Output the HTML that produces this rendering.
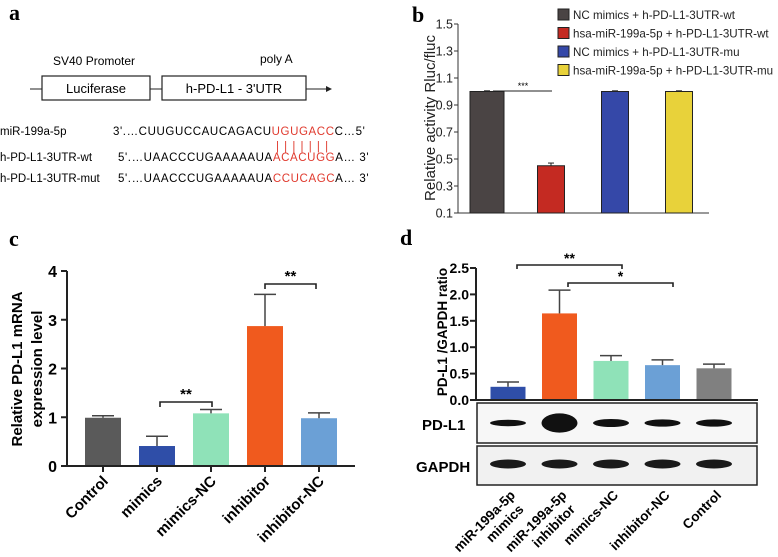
<!DOCTYPE html>
<html><head><meta charset="utf-8"><style>
html,body{margin:0;padding:0;background:#fff;}
svg{display:block;font-family:"Liberation Sans",Arial,sans-serif;}
</style></head><body>
<svg id="fig" width="778" height="557" viewBox="0 0 778 557" xmlns="http://www.w3.org/2000/svg">
<g>
<text x="9" y="20" font-family="Liberation Serif" font-weight="bold" font-size="22">a</text>
<text x="53" y="65" font-size="12">SV40 Promoter</text>
<text x="260" y="63" font-size="12">poly A</text>
<line x1="30" y1="89" x2="42" y2="89" stroke="#222" stroke-width="1"/>
<rect x="42" y="76" width="108" height="24" fill="none" stroke="#222" stroke-width="1.2"/>
<text x="96" y="93" font-size="13" text-anchor="middle">Luciferase</text>
<line x1="150" y1="89" x2="162" y2="89" stroke="#222"/>
<rect x="162" y="76" width="144" height="24" fill="none" stroke="#222" stroke-width="1.2"/>
<text x="234" y="93" font-size="13" text-anchor="middle">h-PD-L1 - 3'UTR</text>
<line x1="306" y1="89" x2="326" y2="89" stroke="#222"/>
<polygon points="326,86 332,89 326,92" fill="#222"/>
<g font-size="11.5">
<text x="0" y="135">miR-199a-5p</text>
<text x="113" y="135" letter-spacing="0.6">3'.…CUUGUCCAUCAGACU<tspan fill="#e03a2e">UGUGACC</tspan>C…5'</text>
<text x="276" y="150" fill="#e03a2e" letter-spacing="5.2">|||||||</text>
<text x="0" y="161">h-PD-L1-3UTR-wt</text>
<text x="118" y="161" letter-spacing="0.6">5'.…UAACCCUGAAAAAUA<tspan fill="#e03a2e">ACACUGG</tspan>A… 3'</text>
<text x="0" y="182">h-PD-L1-3UTR-mut</text>
<text x="118" y="182" letter-spacing="0.6">5'.…UAACCCUGAAAAAUA<tspan fill="#e03a2e">CCUCAGC</tspan>A… 3'</text>
</g>
</g>
<g id="pb"></g>
<g id="pc"></g>
<g id="pd"></g>
</svg>
<script>
// ---- Panel b data ----
var bCategories = ["NC mimics + h-PD-L1-3UTR-wt","hsa-miR-199a-5p + h-PD-L1-3UTR-wt","NC mimics + h-PD-L1-3UTR-mu","hsa-miR-199a-5p + h-PD-L1-3UTR-mu"];
var bValues = [1.0, 0.45, 1.0, 1.0];
var bErrors = [0.005, 0.02, 0.005, 0.005];
var bTicks = ["0.1","0.3","0.5","0.7","0.9","1.1","1.3","1.5"];
var bColors = ["#4a4444","#c42a22","#3548a8","#e8d23a"];
// ---- Panel c data ----
var cCategories = ["Control","mimics","mimics-NC","inhibitor","inhibitor-NC"];
var cValues = [0.99, 0.41, 1.08, 2.87, 0.98];
var cErrors = [0.04, 0.20, 0.08, 0.65, 0.11];
var cTicks = ["0","1","2","3","4"];
var cColors = ["#5a5a5a","#2f4ea8","#8fe2b8","#f05a1e","#6ba0d6"];
// ---- Panel d data ----
var dCategories = [["miR-199a-5p","mimics"],["miR-199a-5p","inhibitor"],["mimics-NC"],["inhibitor-NC"],["Control"]];
var dValues = [0.25, 1.64, 0.74, 0.66, 0.60];
var dErrors = [0.09, 0.44, 0.10, 0.10, 0.08];
var dTicks = ["0.0","0.5","1.0","1.5","2.0","2.5"];
var dColors = ["#2f4ea8","#f05a1e","#8fe2b8","#6ba0d6","#808080"];
var dBandPD = [0.8, 2.4, 1.0, 0.9, 0.9];

var NS="http://www.w3.org/2000/svg";
function mk(parent, tag, attrs, text){
  var e=document.createElementNS(NS,tag);
  for(var k in attrs) e.setAttribute(k,attrs[k]);
  if(text!==undefined) e.textContent=text;
  parent.appendChild(e); return e;
}

// ===== Panel b =====
(function(){
  var g=document.getElementById('pb');
  var x0=458, x1=709, yTop=24, yBot=213, vMin=0.1, vMax=1.5;
  function y(v){return yBot-(v-vMin)/(vMax-vMin)*(yBot-yTop);}
  function xc(i){return 487+i*64;}
  var t=mk(g,'text',{x:412,y:22,'font-family':'Liberation Serif','font-weight':'bold','font-size':22},'b');
  
  
  var ax=mk(g,'line',{x1:x0,y1:yBot,x2:x1,y2:yBot,stroke:'#333','stroke-width':1});
  
  
  var ay=mk(g,'line',{x1:x0,y1:yTop,x2:x0,y2:yBot,stroke:'#333','stroke-width':1});
  
  
  bTicks.forEach(function(s){
    var v=parseFloat(s);
    mk(g,'line',{x1:x0-4,y1:y(v),x2:x0,y2:y(v),stroke:'#333'});
    var tl=mk(g,'text',{x:x0-5,y:y(v)+4.5,'font-size':12.5,'text-anchor':'end',fill:'#222'},s);
    
    
  });
  var yt=mk(g,'text',{x:0,y:0,'font-size':15,'text-anchor':'middle',fill:'#222',transform:'translate(435,118) rotate(-90)'},'Relative activity Rluc/fluc');
  
  
  bValues.forEach(function(v,i){
    var w=(i===0?34:27);
    var r=mk(g,'rect',{x:xc(i)-w/2,y:y(v),width:w,height:yBot-y(v),fill:bColors[i],stroke:'#222','stroke-width':1});
    
    
    mk(g,'line',{x1:xc(i),y1:y(v),x2:xc(i),y2:y(v+bErrors[i]),stroke:'#222','stroke-width':1});
    mk(g,'line',{x1:xc(i)-3,y1:y(v+bErrors[i]),x2:xc(i)+3,y2:y(v+bErrors[i]),stroke:'#222','stroke-width':1});
  });
  var sl=mk(g,'line',{x1:493,y1:91,x2:552,y2:91,stroke:'#222','stroke-width':1});
  
  
  var st=mk(g,'text',{x:523,y:89,'font-size':9,'text-anchor':'middle'},'***');
  
  
  bCategories.forEach(function(c,i){
    var yy=9+i*18.5;
    var sw=mk(g,'rect',{x:558,y:yy,width:11,height:11,fill:bColors[i],stroke:'#222','stroke-width':1});
    
    
    var lt=mk(g,'text',{x:573,y:yy+10,'font-size':11.6,fill:'#222'},c);
    
    
  });
})();

// ===== Panel c =====
(function(){
  var g=document.getElementById('pc');
  var x0=67, x1=355, yTop=271, yBot=466, vMax=4;
  function y(v){return yBot-v/vMax*(yBot-yTop);}
  function xc(i){return 103+i*54;}
  var t=mk(g,'text',{x:9,y:246,'font-family':'Liberation Serif','font-weight':'bold','font-size':22},'c');
  
  
  cValues.forEach(function(v,i){
    var r=mk(g,'rect',{x:xc(i)-18,y:y(v),width:36,height:yBot-y(v),fill:cColors[i]});
    
    
    mk(g,'line',{x1:xc(i),y1:y(v),x2:xc(i),y2:y(v+cErrors[i]),stroke:'#444','stroke-width':1.5});
    mk(g,'line',{x1:xc(i)-11,y1:y(v+cErrors[i]),x2:xc(i)+11,y2:y(v+cErrors[i]),stroke:'#444','stroke-width':1.5});
    mk(g,'line',{x1:xc(i),y1:yBot,x2:xc(i),y2:yBot+6,stroke:'#222','stroke-width':2});
    var lb=mk(g,'text',{x:0,y:0,'font-size':15,'font-weight':'bold','text-anchor':'end',transform:'translate('+(xc(i)+6)+',482) rotate(-45)'},cCategories[i]);
    
    
  });
  var ax=mk(g,'line',{x1:x0,y1:yBot,x2:x1,y2:yBot,stroke:'#222','stroke-width':2});
  
  
  var ay=mk(g,'line',{x1:x0,y1:yTop,x2:x0,y2:yBot,stroke:'#222','stroke-width':2});
  
  
  cTicks.forEach(function(s){
    var v=parseFloat(s);
    mk(g,'line',{x1:x0-6,y1:y(v),x2:x0,y2:y(v),stroke:'#222','stroke-width':2});
    var tl=mk(g,'text',{x:x0-10,y:y(v)+6,'font-size':16,'font-weight':'bold','text-anchor':'end'},s);
    
    
  });
  var yt=mk(g,'text',{x:0,y:0,'font-size':15,'font-weight':'bold','text-anchor':'middle'});
  
  
  yt.setAttribute('transform','translate(22,369) rotate(-90)');
  mk(yt,'tspan',{x:0,y:0},'Relative PD-L1 mRNA');
  mk(yt,'tspan',{x:0,y:20},'expression level');
  function bracket(xa,xb,yy,txt,name){
    var p=mk(g,'path',{d:'M'+xa+','+(yy+5)+' V'+yy+' H'+xb+' V'+(yy+5),fill:'none',stroke:'#222','stroke-width':1.6});
    
    
    mk(g,'text',{x:(xa+xb)/2,y:yy-3,'font-size':15,'font-weight':'bold','text-anchor':'middle'},txt);
  }
  bracket(160,212,402,'**','c-bracket-mimics');
  bracket(265,316,284,'**','c-bracket-inhibitor');
})();

// ===== Panel d =====
(function(){
  var g=document.getElementById('pd');
  var x0=476, x1=758, yTop=268, yBot=400, vMax=2.5;
  function y(v){return yBot-v/vMax*(yBot-yTop);}
  function xc(i){return 508+i*51.5;}
  var t=mk(g,'text',{x:400,y:245,'font-family':'Liberation Serif','font-weight':'bold','font-size':22},'d');
  
  
  dValues.forEach(function(v,i){
    var r=mk(g,'rect',{x:xc(i)-17.5,y:y(v),width:35,height:yBot-y(v),fill:dColors[i]});
    
    
    mk(g,'line',{x1:xc(i),y1:y(v),x2:xc(i),y2:y(v+dErrors[i]),stroke:'#444','stroke-width':1.5});
    mk(g,'line',{x1:xc(i)-11,y1:y(v+dErrors[i]),x2:xc(i)+11,y2:y(v+dErrors[i]),stroke:'#444','stroke-width':1.5});
    var lb=mk(g,'text',{x:0,y:0,'font-size':13.5,'font-weight':'bold','text-anchor':'end',transform:'translate('+(xc(i)+8)+',496) rotate(-45)'});
    
    
    dCategories[i].forEach(function(line,k){
      mk(lb,'tspan',{x:(k===1? -4:0),y:k*16},line);
    });
  });
  var ax=mk(g,'line',{x1:x0,y1:yBot,x2:x1,y2:yBot,stroke:'#222','stroke-width':2});
  
  
  var ay=mk(g,'line',{x1:x0,y1:yTop,x2:x0,y2:yBot,stroke:'#222','stroke-width':2});
  
  
  dTicks.forEach(function(s){
    var v=parseFloat(s);
    mk(g,'line',{x1:x0-6,y1:y(v),x2:x0,y2:y(v),stroke:'#222','stroke-width':2});
    var tl=mk(g,'text',{x:x0-7,y:y(v)+5,'font-size':14,'font-weight':'bold','text-anchor':'end'},s);
    
    
  });
  var yt=mk(g,'text',{x:0,y:0,'font-size':13.5,'font-weight':'bold','text-anchor':'middle',transform:'translate(447,332) rotate(-90)'},'PD-L1 /GAPDH ratio');
  
  
  function bracket(xa,xb,yy,txt,name){
    var p=mk(g,'path',{d:'M'+xa+','+(yy+4)+' V'+yy+' H'+xb+' V'+(yy+4),fill:'none',stroke:'#222','stroke-width':1.6});
    
    
    mk(g,'text',{x:(xa+xb)/2,y:yy-2,'font-size':14,'font-weight':'bold','text-anchor':'middle'},txt);
  }
  bracket(517,622,265,'**','d-bracket-mimics');
  bracket(568,673,283,'*','d-bracket-inhibitor');
  var b1=mk(g,'rect',{x:477,y:403,width:280,height:40,fill:'#f7f7f7',stroke:'#222','stroke-width':1.5});
  
  
  var b2=mk(g,'rect',{x:477,y:446,width:280,height:39,fill:'#f1f1f1',stroke:'#222','stroke-width':1.5});
  
  
  dBandPD.forEach(function(h,i){
    var e=mk(g,'ellipse',{cx:xc(i),cy:423,rx:18,ry:4*h,fill:'#111'});
    
    
    var e2=mk(g,'ellipse',{cx:xc(i),cy:464,rx:18,ry:4.5,fill:'#1a1a1a'});
    
    
  });
  var l1=mk(g,'text',{x:422,y:430,'font-size':15,'font-weight':'bold'},'PD-L1');
  
  
  var l2=mk(g,'text',{x:416,y:472,'font-size':15,'font-weight':'bold'},'GAPDH');
  
  
})();
</script>
</body></html>
